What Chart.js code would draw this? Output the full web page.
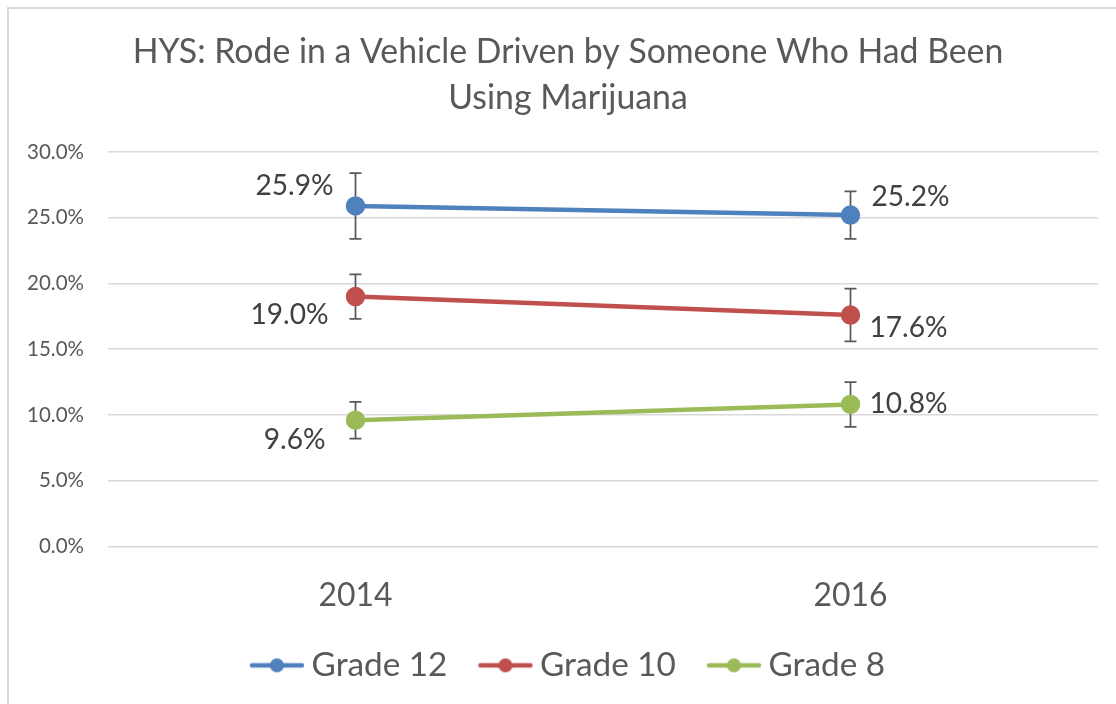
<!DOCTYPE html>
<html>
<head>
<meta charset="utf-8">
<script src="https://cdn.jsdelivr.net/npm/chart.js@4.4.1/dist/chart.umd.min.js"></script>
<style>
  html, body { margin: 0; padding: 0; background: #ffffff; }
  #wrap { position: relative; width: 1116px; height: 704px; }
</style>
</head>
<body>
<div id="wrap"><canvas id="c" width="1116" height="704"></canvas></div>
<script>
// ---- data ----
const years = ['2014', '2016'];
const seriesNames = ['Grade 12', 'Grade 10', 'Grade 8'];
const grade12 = [25.9, 25.2];
const grade10 = [19.0, 17.6];
const grade8 = [9.6, 10.8];
const grade12Low = [23.4, 23.4];
const grade12High = [28.4, 27.0];
const grade10Low = [17.3, 15.6];
const grade10High = [20.7, 19.6];
const grade8Low = [8.2, 9.1];
const grade8High = [11.0, 12.5];
const yTicks = [0, 5, 10, 15, 20, 25, 30];
const titleLines = ['HYS: Rode in a Vehicle Driven by Someone Who Had Been', 'Using Marijuana'];

// ---- styles ----
const FONT = 'Lato';
const colors = ['#4f81bd', '#c0504d', '#9bbb59'];
const labelOffsets = [
  [[-22, -20, 'right'], [21, -18, 'left']],
  [[-27, 18, 'right'], [19, 13, 'left']],
  [[-30, 20, 'right'], [19, 0, 'left']]
];

const mctx = document.createElement('canvas').getContext('2d');
function fit(text, target) {
  mctx.font = '100px ' + FONT;
  const w = mctx.measureText(text).width;
  return Math.round(target / w * 1000) / 10;
}
const titleSize = fit(titleLines[0], 870);
const tickSize = fit('30.0%', 57);
const xSize = fit('2014', 74);
const legendSize = fit('Grade 12', 136);
const labelSize = fit('25.9%', 78);

function legendMarker(color) {
  const cv = document.createElement('canvas');
  cv.width = 56; cv.height = 18;
  const g = cv.getContext('2d');
  g.strokeStyle = color; g.lineWidth = 4.5; g.lineCap = 'round';
  g.beginPath(); g.moveTo(3, 9); g.lineTo(53, 9); g.stroke();
  g.fillStyle = color;
  g.beginPath(); g.arc(28, 9, 7, 0, Math.PI * 2); g.fill();
  return cv;
}
const markers = colors.map(legendMarker);

const values = [grade12, grade10, grade8];
const lows = [grade12Low, grade10Low, grade8Low];
const highs = [grade12High, grade10High, grade8High];

const framePlugin = {
  id: 'frame',
  afterLayout(chart) {
    // centre the title and legend like the original (shifted right of the canvas centre)
    if (chart.titleBlock) chart.titleBlock.left = 38;
    if (chart.legend) chart.legend.left = 46;
  },
  beforeDraw(chart) {
    const ctx = chart.ctx;
    ctx.save();
    ctx.fillStyle = '#ffffff';
    ctx.fillRect(0, 0, chart.width, chart.height);
    ctx.strokeStyle = '#d9d9d9';
    ctx.lineWidth = 2;
    ctx.beginPath();
    ctx.moveTo(8, chart.height + 5);
    ctx.lineTo(8, 8);
    ctx.lineTo(chart.width + 5, 8);
    ctx.stroke();
    ctx.restore();
  }
};

const errorBarPlugin = {
  id: 'errorBars',
  beforeDatasetsDraw(chart) {
    const ctx = chart.ctx;
    const x = chart.scales.x, y = chart.scales.y;
    ctx.save();
    ctx.strokeStyle = '#595959';
    ctx.lineWidth = 1.75;
    for (let s = 0; s < values.length; s++) {
      for (let i = 0; i < years.length; i++) {
        const px = x.getPixelForValue(i);
        const top = y.getPixelForValue(highs[s][i]);
        const bot = y.getPixelForValue(lows[s][i]);
        ctx.beginPath();
        ctx.moveTo(px, top); ctx.lineTo(px, bot);
        ctx.moveTo(px - 6, top); ctx.lineTo(px + 6, top);
        ctx.moveTo(px - 6, bot); ctx.lineTo(px + 6, bot);
        ctx.stroke();
      }
    }
    ctx.restore();
  }
};

const dataLabelPlugin = {
  id: 'dataLabels',
  afterDatasetsDraw(chart) {
    const ctx = chart.ctx;
    ctx.save();
    ctx.font = labelSize + 'px ' + FONT;
    ctx.fillStyle = '#404040';
    ctx.textBaseline = 'middle';
    chart.data.datasets.forEach((ds, s) => {
      const meta = chart.getDatasetMeta(s);
      meta.data.forEach((pt, i) => {
        const [dx, dy, align] = labelOffsets[s][i];
        ctx.textAlign = align;
        ctx.fillText(ds.data[i].toFixed(1) + '%', pt.x + dx, pt.y + dy);
      });
    });
    ctx.restore();
  }
};

new Chart(document.getElementById('c'), {
  type: 'line',
  data: {
    labels: years,
    datasets: seriesNames.map((name, s) => ({
      label: name,
      data: values[s],
      borderColor: colors[s],
      backgroundColor: colors[s],
      pointBackgroundColor: colors[s],
      pointBorderColor: colors[s],
      borderWidth: 4.5,
      pointRadius: 7.5,
      pointHoverRadius: 7.5,
      pointStyle: 'circle',
      tension: 0
    }))
  },
  options: {
    responsive: false,
    animation: false,
    devicePixelRatio: 1,
    layout: { padding: { left: 0, right: 18, top: 0, bottom: 12 } },
    plugins: {
      title: {
        display: true,
        text: titleLines,
        color: '#595959',
        font: { family: FONT, size: titleSize, weight: 'normal', lineHeight: 46 / titleSize },
        padding: { top: 29, bottom: 31 }
      },
      legend: {
        position: 'bottom',
        labels: {
          usePointStyle: true,
          pointStyleWidth: 36,
          color: '#595959',
          padding: 40,
          font: { family: FONT, size: legendSize },
          generateLabels(chart) {
            return chart.data.datasets.map((ds, s) => ({
              text: ds.label,
              pointStyle: markers[s],
              fillStyle: colors[s],
              strokeStyle: colors[s],
              lineWidth: 0,
              fontColor: '#595959',
              hidden: false,
              datasetIndex: s
            }));
          }
        }
      },
      tooltip: { enabled: false }
    },
    scales: {
      x: {
        offset: true,
        afterFit(scale) { scale.height = scale.height - 28; },
        grid: { display: false },
        border: { display: false },
        ticks: { color: '#595959', padding: 22, font: { family: FONT, size: xSize } }
      },
      y: {
        min: 0, max: 30,
        afterFit(scale) { scale.width = 108; },
        afterBuildTicks(scale) { scale.ticks = yTicks.map(v => ({ value: v })); },
        grid: { color: '#d9d9d9', lineWidth: 1.5, drawTicks: false },
        border: { display: false },
        ticks: {
          color: '#595959',
          padding: 24,
          font: { family: FONT, size: tickSize },
          callback: v => v.toFixed(1) + '%'
        }
      }
    }
  },
  plugins: [framePlugin, errorBarPlugin, dataLabelPlugin]
});
</script>
</body>
</html>
